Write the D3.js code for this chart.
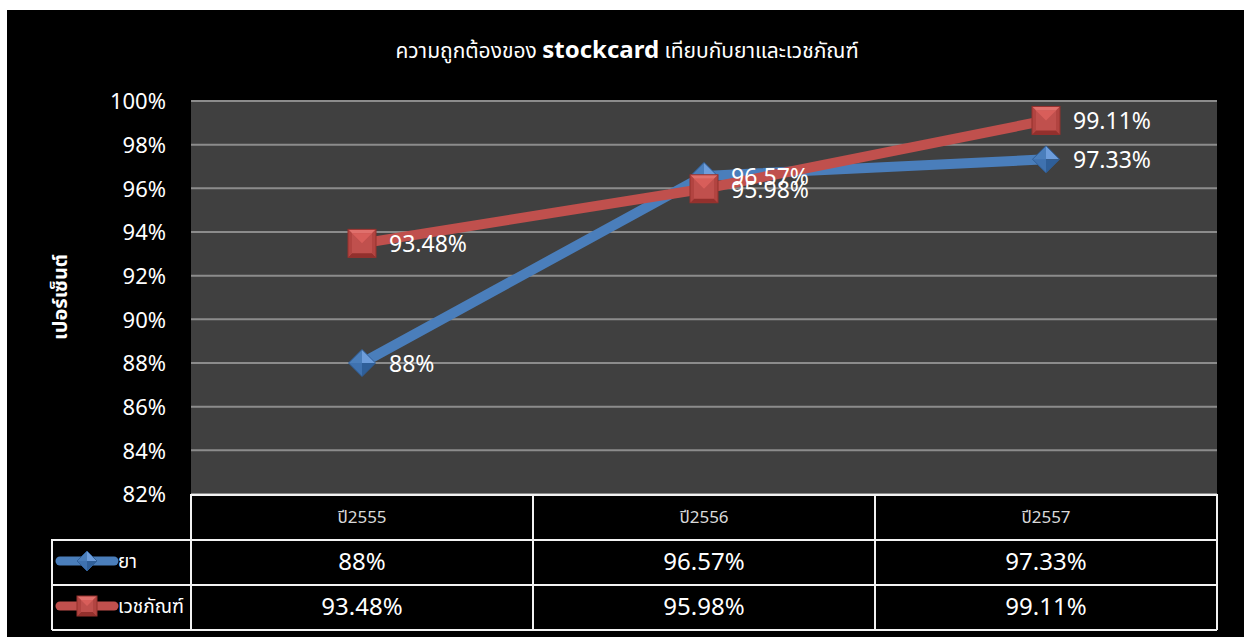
<!DOCTYPE html>
<html>
<head>
<meta charset="utf-8">
<script src="https://cdn.jsdelivr.net/npm/d3@7"></script>
<style>
  body { margin: 0; background: #fff; }
  svg text { font-family: "Noto Sans", "Noto Sans Thai", "DejaVu Sans", sans-serif; }
</style>
</head>
<body>
<script>
// chart data
var years = ["ปี2555", "ปี2556", "ปี2557"];
var drugValues = [88, 96.57, 97.33];
var supplyValues = [93.48, 95.98, 99.11];
var drugLabels = ["88%", "96.57%", "97.33%"];
var supplyLabels = ["93.48%", "95.98%", "99.11%"];
var seriesNames = ["ยา", "เวชภัณฑ์"];
var yTicks = [82, 84, 86, 88, 90, 92, 94, 96, 98, 100];

var W = 1244, H = 637;
var margin = {top: 101, left: 191, right: 27, bottom: 143};
var width = W - margin.left - margin.right,
    height = H - margin.top - margin.bottom;

var svg = d3.select("body").append("svg")
    .attr("width", W)
    .attr("height", H);

// black panel
svg.append("rect")
    .attr("x", 7).attr("y", 10)
    .attr("width", W - 7).attr("height", H - 10)
    .attr("fill", "#000");

// title
var title = svg.append("text")
    .attr("x", 627).attr("y", 58)
    .attr("text-anchor", "middle")
    .attr("fill", "#fff");
title.append("tspan").attr("font-size", 21).text("ความถูกต้องของ ");
title.append("tspan").attr("font-size", 24).attr("font-weight", "bold").text("stockcard");
title.append("tspan").attr("font-size", 21).text(" เทียบกับยาและเวชภัณฑ์");

var g = svg.append("g")
    .attr("transform", "translate(" + margin.left + "," + margin.top + ")");

var x = d3.scaleBand().domain(years).range([0, width]);
var y = d3.scaleLinear().domain([82, 100]).range([height, 0]);

// plot background
g.append("rect")
    .attr("width", width).attr("height", height)
    .attr("fill", "#404040");

// grid lines
g.selectAll(".grid").data(yTicks).enter().append("line")
    .attr("x1", 0).attr("x2", width)
    .attr("y1", d => y(d)).attr("y2", d => y(d))
    .attr("stroke", "#8c8c8c").attr("stroke-width", 2);

// y axis
var yAxis = d3.axisLeft(y).tickValues(yTicks).tickFormat(d => d + "%").tickSize(0).tickPadding(25);
var ya = g.append("g").call(yAxis);
ya.select(".domain").remove();
ya.selectAll("text").attr("fill", "#fff").attr("font-size", 22).attr("dy", "0.35em");

// y axis title
svg.append("text")
    .attr("transform", "translate(67,297) rotate(-90)")
    .attr("text-anchor", "middle")
    .attr("fill", "#fff")
    .attr("font-size", 20)
    .attr("font-weight", "bold")
    .text("เปอร์เซ็นต์");

// table
var rowH = 45;
var tbl = svg.append("g").attr("transform", "translate(" + margin.left + "," + (margin.top + height) + ")");
var lineCol = "#f2f2f2";
// horizontal lines
[0, 1, 2, 3].forEach(function (i) {
    tbl.append("line")
        .attr("x1", i === 0 ? 0 : 52 - margin.left).attr("x2", width)
        .attr("y1", i * rowH + 1).attr("y2", i * rowH + 1)
        .attr("stroke", lineCol).attr("stroke-width", 2);
});
// vertical lines
years.concat(["end"]).forEach(function (d, i) {
    var xx = i < years.length ? x(d) : width;
    tbl.append("line")
        .attr("x1", xx).attr("x2", xx)
        .attr("y1", 0).attr("y2", 3 * rowH + 1)
        .attr("stroke", lineCol).attr("stroke-width", 2);
});
tbl.append("line")
    .attr("x1", 52 - margin.left).attr("x2", 52 - margin.left)
    .attr("y1", rowH).attr("y2", 3 * rowH + 1)
    .attr("stroke", lineCol).attr("stroke-width", 2);

tbl.selectAll(".hdr").data(years).enter().append("text")
    .attr("x", d => x(d) + x.bandwidth() / 2)
    .attr("y", 29)
    .attr("text-anchor", "middle")
    .attr("fill", "#d9d9d9")
    .attr("font-size", 17)
    .text(d => d);

[drugLabels, supplyLabels].forEach(function (labels, r) {
    tbl.selectAll(".val" + r).data(labels).enter().append("text")
        .attr("x", (d, i) => x(years[i]) + x.bandwidth() / 2)
        .attr("y", rowH * (r + 1) + 31)
        .attr("text-anchor", "middle")
        .attr("fill", "#fff")
        .attr("font-size", 24)
        .text(d => d);
});

// markers
var blue = {base: "#4a7ebb", light: "#6d9ddb", dark: "#2f5f99", side: "#3f72b0"};
var red = {base: "#c0504d", light: "#e0706c", dark: "#93302d", side: "#b24441"};

function diamond(sel, s, c) {
    var h = s / 2;
    sel.append("path").attr("d", `M0,${-h}L${h},0L0,0Z`).attr("fill", c.light);
    sel.append("path").attr("d", `M0,${-h}L${-h},0L0,0Z`).attr("fill", c.base);
    sel.append("path").attr("d", `M${-h},0L0,${h}L0,0Z`).attr("fill", c.side);
    sel.append("path").attr("d", `M${h},0L0,${h}L0,0Z`).attr("fill", c.dark);
    sel.append("path").attr("d", `M0,${-h}L${h},0L0,${h}L${-h},0Z`)
        .attr("fill", "none").attr("stroke", c.dark).attr("stroke-width", 1);
}
function square(sel, s, c) {
    var h = s / 2;
    sel.append("rect").attr("x", -h).attr("y", -h).attr("width", s).attr("height", s).attr("fill", c.base);
    sel.append("path").attr("d", `M${-h},${-h}L${h},${-h}L${h - 4},${-h + 4}L${-h + 4},${-h + 4}Z`).attr("fill", c.light);
    sel.append("path").attr("d", `M${-h},${h}L${h},${h}L${h - 4},${h - 4}L${-h + 4},${h - 4}Z`).attr("fill", c.dark);
    sel.append("path").attr("d", `M${-h},${-h}L${-h + 4},${-h + 4}L${-h + 4},${h - 4}L${-h},${h}Z`).attr("fill", c.side);
    sel.append("path").attr("d", `M${h},${-h}L${h - 4},${-h + 4}L${h - 4},${h - 4}L${h},${h}Z`).attr("fill", c.side);
    sel.append("path").attr("d", `M${-h + 4},${-h + 4}L0,0L${h - 4},${-h + 4}Z`).attr("fill", "#d85e5a");
    sel.append("rect").attr("x", -h).attr("y", -h).attr("width", s).attr("height", s)
        .attr("fill", "none").attr("stroke", c.dark).attr("stroke-width", 1);
}

var cx = d => x(d) + x.bandwidth() / 2;
var line = d3.line().x((d, i) => cx(years[i])).y(d => y(d));

var series = [
    {vals: drugValues, labels: drugLabels, col: blue, mark: diamond, size: 27},
    {vals: supplyValues, labels: supplyLabels, col: red, mark: square, size: 28}
];

series.forEach(function (s) {
    g.append("path")
        .attr("d", line(s.vals))
        .attr("fill", "none")
        .attr("stroke", s.col.base)
        .attr("stroke-width", 10)
        .attr("stroke-linejoin", "round");
});
series.forEach(function (s) {
    s.vals.forEach(function (v, i) {
        var m = g.append("g").attr("transform", "translate(" + cx(years[i]) + "," + y(v) + ")");
        s.mark(m, s.size, s.col);
    });
});
series.forEach(function (s) {
    g.selectAll(null).data(s.vals).enter().append("text")
        .attr("x", (d, i) => cx(years[i]) + 27)
        .attr("y", d => y(d) + 9)
        .attr("fill", "#fff")
        .attr("font-size", 23)
        .text((d, i) => s.labels[i]);
});

// legend keys in the table
series.forEach(function (s, r) {
    var ly = rowH * (r + 1) + 22;
    var lg = tbl.append("g").attr("transform", "translate(" + (87 - margin.left) + "," + ly + ")");
    lg.append("line").attr("x1", -27).attr("x2", 27).attr("y1", 0).attr("y2", 0)
        .attr("stroke", s.col.base).attr("stroke-width", 9).attr("stroke-linecap", "round");
    s.mark(lg, 20, s.col);
    tbl.append("text")
        .attr("x", 118 - margin.left)
        .attr("y", ly + 7)
        .attr("fill", "#fff")
        .attr("font-size", 19)
        .text(seriesNames[r]);
});
</script>
</body>
</html>
